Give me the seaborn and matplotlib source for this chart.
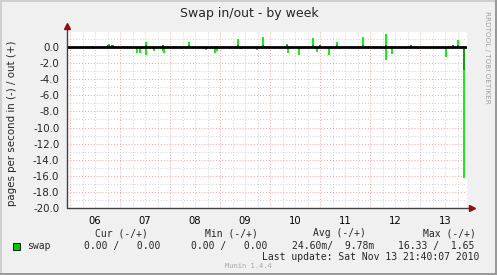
import numpy as np
import matplotlib
matplotlib.use("Agg")
import matplotlib.pyplot as plt
from matplotlib.patches import Rectangle
from matplotlib.ticker import FixedLocator, FixedFormatter
import seaborn as sns

# ---- data (x in days of November 2010, value in pages/s) ----
day_labels = ["06", "07", "08", "09", "10", "11", "12", "13"]
day_starts = [6, 7, 8, 9, 10, 11, 12, 13]

out_times = [6.77, 6.85, 7.52, 7.86, 8.38, 9.36, 9.86, 10.34, 10.86, 11.00,
             11.34, 11.86, 11.98, 12.32, 12.82, 13.66, 13.76]
out_values = [0.40, 0.25, 0.60, 0.20, 0.60, 0.95, 1.20, 0.35, 1.10, 0.30,
              0.60, 1.20, 0.15, 1.65, 0.20, 0.30, 0.85]

in_times = [6.00, 6.30, 7.34, 7.40, 7.52, 7.68, 7.86, 7.88, 8.72, 8.90, 8.94,
            9.42, 9.74, 10.36, 10.58, 10.94, 11.18, 11.40, 12.32, 12.44,
            13.52, 13.875]
in_values = [0.20, 0.15, 0.80, 0.70, 0.95, 0.50, 0.50, 0.70, 0.35, 0.70, 0.50,
             0.30, 0.40, 0.70, 0.95, 0.60, 1.00, 0.30, 1.60, 0.85,
             1.25, 16.33]
in_block = [0.20, 0.15, 0.25, 0.25, 0.25, 0.25, 0.25, 0.25, 0.25, 0.25, 0.25,
            0.25, 0.25, 0.25, 0.25, 0.25, 0.25, 0.25, 0.25, 0.25,
            0.25, 2.90]

legend_cols = ["Cur (-/+)", "Min (-/+)", "Avg (-/+)", "Max (-/+)"]
legend_vals = ["0.00 /   0.00", "0.00 /   0.00", "24.60m/  9.78m", "16.33 /  1.65"]

# ---- style ----
sns.set_style("white")
plt.rcParams["font.family"] = ["DejaVu Sans"]

W, H = 497, 275
fig = plt.figure(figsize=(W / 100, H / 100), dpi=100, facecolor="#F0F0F0")

def fx(px):
    return px / W

def fy(py):
    return 1 - py / H

ax = fig.add_axes([fx(67), fy(208), fx(400), (208 - 32.3) / H])
ax.set_facecolor("white")
ax.set_xlim(5.94, 13.94)
ax.set_ylim(-20, 1.83)

# grids
ax.xaxis.set_major_locator(FixedLocator(day_starts))
ax.xaxis.set_major_formatter(FixedFormatter([""] * len(day_starts)))
minor_x = [d + f for d in range(5, 15) for f in (0.25, 0.5, 0.75)]
ax.xaxis.set_minor_locator(FixedLocator(minor_x))
ax.xaxis.set_minor_formatter(FixedFormatter(
    [day_labels[day_starts.index(int(m))] if (abs(m % 1 - 0.5) < 1e-6 and int(m) in day_starts) else ""
     for m in minor_x]))
ax.yaxis.set_major_locator(FixedLocator(np.arange(-20, 1, 2)))
ax.yaxis.set_minor_locator(FixedLocator(np.arange(-19, 2, 2)))
ax.yaxis.set_major_formatter(matplotlib.ticker.FormatStrFormatter("%.1f"))

ax.grid(which="minor", color="#CFCFCF", linestyle=(0, (1, 2)), linewidth=0.7)
ax.grid(which="major", color="#F4A0A0", linestyle=(0, (1, 2)), linewidth=0.7)
ax.set_axisbelow(True)

ax.tick_params(axis="x", which="major", length=3, color="#F08080", labelsize=7.2, pad=2)
ax.tick_params(axis="x", which="minor", length=0, labelsize=7.2, pad=6, labelcolor="black")
ax.tick_params(axis="y", which="major", length=2.5, color="#404040", labelsize=7.4, pad=3)
ax.tick_params(axis="y", which="minor", length=0)
for s in ax.spines.values():
    s.set_visible(False)

# data
ax.vlines(out_times, 0, out_values, color="#10EE10", linewidth=1.4, zorder=3)
ax.vlines(in_times, 0, [-v for v in in_values], color="#10EE10", linewidth=1.4, zorder=3)
ax.bar(in_times, [-v for v in in_block], width=0.045, color="#00A800", zorder=3.5, linewidth=0)
ax.bar(out_times, [min(v, 0.25) for v in out_values], width=0.045, color="#00A800",
       zorder=3.5, linewidth=0)
ax.axhline(0, color="black", linewidth=2.0, zorder=4)

# axis lines with arrows
ax.plot([0, 0], [0, 1.03], transform=ax.transAxes, color="#404040", lw=1.0, clip_on=False, zorder=5)
ax.plot([0, 1.01], [0, 0], transform=ax.transAxes, color="#404040", lw=1.0, clip_on=False, zorder=5)
ax.plot([0], [1.035], marker="^", markersize=5, color="#8B1010", transform=ax.transAxes, clip_on=False, zorder=6)
ax.plot([1.012], [0], marker=">", markersize=5, color="#8B1010", transform=ax.transAxes, clip_on=False, zorder=6)

# texts
fig.text(fx(249), fy(13), "Swap in/out - by week", ha="center", va="center", fontsize=9)
fig.text(fx(12), fy(123), "pages per second in (-) / out (+)", rotation=90,
         ha="center", va="center", fontsize=7.4)
fig.text(fx(487), fy(57), "RRDTOOL / TOBI OETIKER", rotation=-90, ha="center", va="center",
         fontsize=5.2, color="#A0A0A0")

mono = "DejaVu Sans Mono"
hdr_x = [95, 205, 313, 423]
for x, t in zip(hdr_x, legend_cols):
    fig.text(fx(x), fy(233), t, family=mono, fontsize=7, ha="left", va="center")
val_x = [84, 191, 292, 398]
for x, t in zip(val_x, legend_vals):
    fig.text(fx(x), fy(246), t, family=mono, fontsize=7, ha="left", va="center")
fig.text(fx(27), fy(246), "swap", family=mono, fontsize=7, ha="left", va="center")
fig.patches.append(Rectangle((fx(13), fy(250)), fx(7), 7 / H, transform=fig.transFigure,
                             facecolor="#00CC00", edgecolor="black", linewidth=0.6))
fig.text(fx(262), fy(257.5), "Last update: Sat Nov 13 21:40:07 2010", family=mono, fontsize=7,
         ha="left", va="center")
fig.text(fx(225), fy(266), "Munin 1.4.4", family=mono, fontsize=5.1, ha="left", va="center",
         color="#A8A8A8")

# frame
fig.patches.append(Rectangle((0, 0), fx(2), 1, transform=fig.transFigure, facecolor="#CFCFCF", lw=0))
fig.patches.append(Rectangle((0, fy(2)), 1, 2 / H, transform=fig.transFigure, facecolor="#CFCFCF", lw=0))
fig.patches.append(Rectangle((fx(495), 0), fx(2), 1, transform=fig.transFigure, facecolor="#9A9A9A", lw=0))
fig.patches.append(Rectangle((0, 0), 1, 2 / H, transform=fig.transFigure, facecolor="#9A9A9A", lw=0))

fig.savefig("out.png", dpi=100, facecolor=fig.get_facecolor())
